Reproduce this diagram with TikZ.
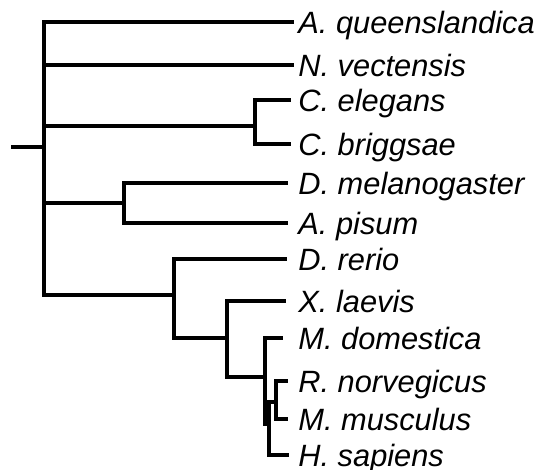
\documentclass[tikz,border=0pt]{standalone}
\usepackage{fontspec}
\setmainfont{Liberation Sans}
\usepackage{tikz}
\usetikzlibrary{positioning,calc}

\begin{document}
\begin{tikzpicture}[x=0.5pt, y=-0.5pt,
  branch/.style={line width=1.6pt, line join=miter},
  taxon/.style={anchor=base west, inner sep=0pt, font=\itshape\fontsize{15.4}{18}\selectfont}]
  \useasboundingbox (0,0) rectangle (546,470);

  % Internal nodes
  \coordinate (stub) at (11,147);
  \coordinate (root) at (44,147);
  \coordinate (nemat) at (255,126);
  \coordinate (arthr) at (124,203);
  \coordinate (vert) at (174,295);
  \coordinate (tetra) at (227,338);
  \coordinate (mamm) at (265,377);
  \coordinate (euth) at (269,424);
  \coordinate (rod) at (276,402);

  % Tips
  \coordinate (t-aq) at (294,22);
  \coordinate (t-nv) at (294,65);
  \coordinate (t-ce) at (291,100);
  \coordinate (t-cb) at (291,144);
  \coordinate (t-dm) at (288,183);
  \coordinate (t-ap) at (288,223);
  \coordinate (t-dr) at (287,259);
  \coordinate (t-xl) at (286,301);
  \coordinate (t-md) at (283,338);
  \coordinate (t-rn) at (288,381);
  \coordinate (t-mm) at (288,419);
  \coordinate (t-hs) at (289,455);

  % Labels
  \node[taxon] (aq) at (298,33.5) {A. queenslandica};
  \node[taxon] (nv) at (298,76.5) {N. vectensis};
  \node[taxon] (ce) at (298,111.5) {C. elegans};
  \node[taxon] (cb) at (298,155.5) {C. briggsae};
  \node[taxon] (dm) at (298,194.5) {D. melanogaster};
  \node[taxon] (ap) at (298,234.5) {A. pisum};
  \node[taxon] (dr) at (298,270.5) {D. rerio};
  \node[taxon] (xl) at (298,312.5) {X. laevis};
  \node[taxon] (md) at (298,349.5) {M. domestica};
  \node[taxon] (rn) at (298,392.5) {R. norvegicus};
  \node[taxon] (mm) at (298,430.5) {M. musculus};
  \node[taxon] (hs) at (298,466.5) {H. sapiens};

  % Branches
  \draw[branch] (stub) -- (root);
  \draw[branch] (root) |- (t-aq);
  \draw[branch] (root) |- (t-nv);
  \draw[branch] (root) |- (nemat);
  \draw[branch] (root) |- (arthr);
  \draw[branch] (root) |- (vert);
  \draw[branch] (nemat) |- (t-ce);
  \draw[branch] (nemat) |- (t-cb);
  \draw[branch] (arthr) |- (t-dm);
  \draw[branch] (arthr) |- (t-ap);
  \draw[branch] (vert) |- (t-dr);
  \draw[branch] (vert) |- (tetra);
  \draw[branch] (tetra) |- (t-xl);
  \draw[branch] (tetra) |- (mamm);
  \draw[branch] (mamm) |- (t-md);
  \draw[branch] (mamm) |- (euth);
  \draw[branch] (euth) |- (rod);
  \draw[branch] (euth) |- (t-hs);
  \draw[branch] (rod) |- (t-rn);
  \draw[branch] (rod) |- (t-mm);
\end{tikzpicture}
\end{document}
